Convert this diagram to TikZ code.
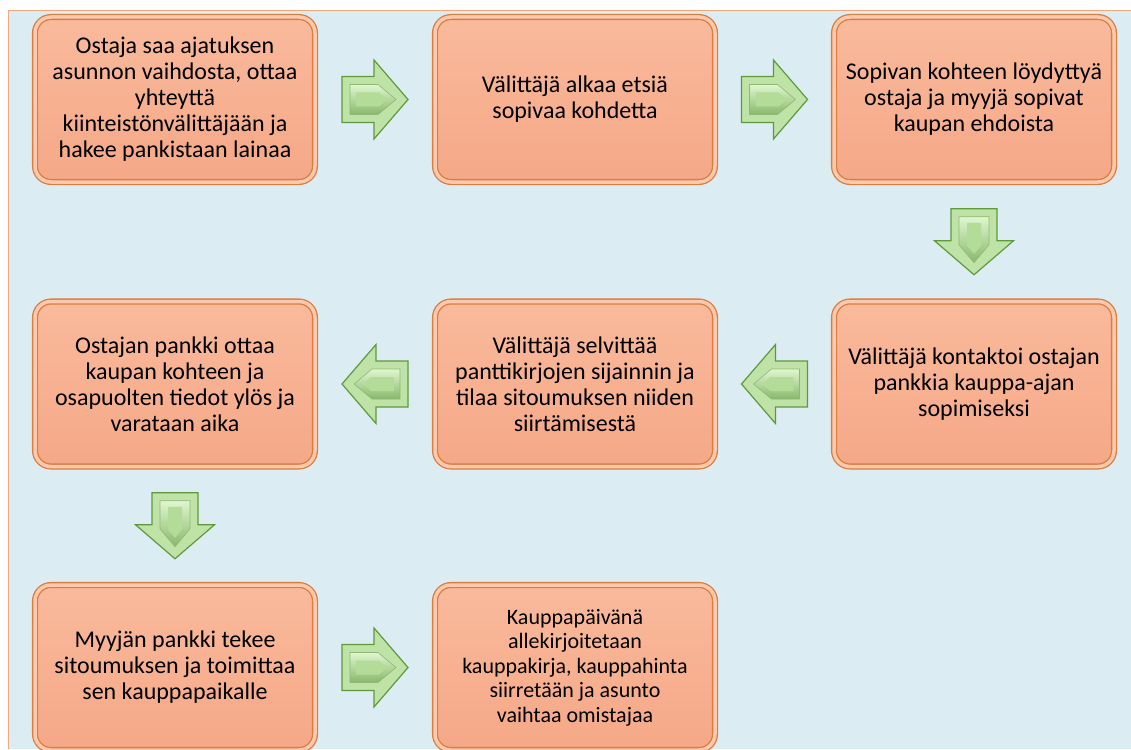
\documentclass[tikz,border=0pt]{standalone}
\usepackage{fontspec}
\setmainfont{Carlito}
\usetikzlibrary{calc}
\definecolor{taustasini}{HTML}{DBEDF3}
\definecolor{reunaviiva}{HTML}{F2A77C}
\definecolor{laatikkoreuna}{HTML}{DC7C3E}
\definecolor{laatikkovalo}{HTML}{FAC9AE}
\definecolor{laatikkoyla}{HTML}{F9BA9C}
\definecolor{laatikkoala}{HTML}{F5A887}
\definecolor{nuolireuna}{HTML}{5E9A3D}
\definecolor{nuolitausta}{HTML}{BFE3A6}
\definecolor{nuolivalo}{HTML}{E0F6CF}
\definecolor{nuolivarjo}{HTML}{88B86C}
\definecolor{nuolipinta}{HTML}{B3DC98}

\begin{document}
\begin{tikzpicture}[x=1pt,y=-1pt,
    vaihe/.style={rectangle,rounded corners=16pt,minimum width=280pt,minimum height=165pt,
      draw=laatikkoreuna,line width=1.3pt,double=laatikkovalo,double distance=3.5pt,
      top color=laatikkoyla,bottom color=laatikkoala,inner sep=0pt,align=center,
      font=\fontsize{24}{26}\selectfont},
    nuoli/.style={draw=nuolireuna,line width=1.2pt,fill=nuolitausta,line join=miter},
    nuolisisa/.style={draw=nuolireuna!70,line width=0.6pt,top color=nuolivalo,bottom color=nuolivarjo},
    nuolikeski/.style={fill=nuolipinta}]
    \useasboundingbox (0,0) rectangle (1131,749);
    \fill[white] (0,0) rectangle (1131,749);
    \fill[taustasini] (8,11) rectangle (1131,749);
    \draw[reunaviiva,line width=1pt] (8,749) -- (8,11) -- (1131,11);

    \node[vaihe] (v1) at (175,99.5) {Ostaja saa ajatuksen\\asunnon vaihdosta, ottaa\\yhteyttä\\kiinteistönvälittäjään ja\\hakee pankistaan lainaa};
    \node[vaihe] (v2) at (575,99.5) {Välittäjä alkaa etsiä\\sopivaa kohdetta};
    \node[vaihe] (v3) at (974,99.5) {Sopivan kohteen löydyttyä\\ostaja ja myyjä sopivat\\kaupan ehdoista};
    \node[vaihe] (v6) at (974,384) {Välittäjä kontaktoi ostajan\\pankkia kauppa-ajan\\sopimiseksi};
    \node[vaihe] (v5) at (575,384) {Välittäjä selvittää\\panttikirjojen sijainnin ja\\tilaa sitoumuksen niiden\\siirtämisestä};
    \node[vaihe] (v4) at (175,384) {Ostajan pankki ottaa\\kaupan kohteen ja\\osapuolten tiedot ylös ja\\varataan aika};
    \node[vaihe] (v7) at (175,667.5) {Myyjän pankki tekee\\sitoumuksen ja toimittaa\\sen kauppapaikalle};
    \node[vaihe,font=\fontsize{22}{24.5}\selectfont] (v8) at (575,667.5) {Kauppapäivänä\\allekirjoitetaan\\kauppakirja, kauppahinta\\siirretään ja asunto\\vaihtaa omistajaa};

    \foreach \a/\b/\r in {v1/v2/0, v2/v3/0, v3/v6/-90, v6/v5/180, v5/v4/180, v4/v7/-90, v7/v8/0}
    {
      \begin{scope}[shift={($(\a)!0.5!(\b)$)},rotate=\r]
        \draw[nuoli] (-33,-23) -- (-1,-23) -- (-1,-39.5) -- (33,0) -- (-1,39.5) -- (-1,23) -- (-33,23) -- cycle;
        \draw[nuolisisa] (-25,-15) -- (3,-15) -- (21,0) -- (3,15) -- (-25,15) -- cycle;
        \fill[nuolikeski] (-19,-7) -- (4,-7) -- (12,0) -- (4,7) -- (-19,7) -- cycle;
      \end{scope}
    }
\end{tikzpicture}
\end{document}
